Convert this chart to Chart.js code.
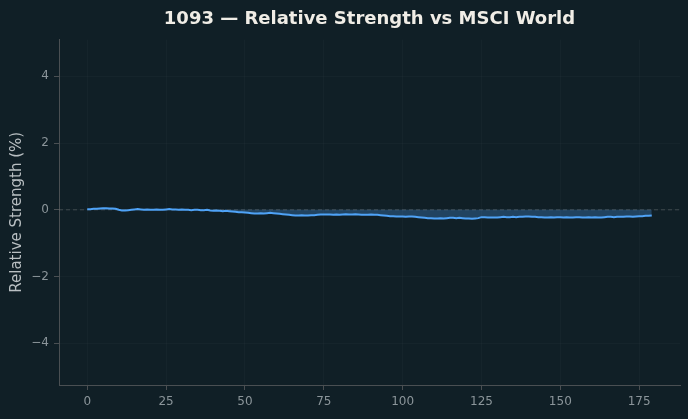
<!DOCTYPE html>
<html>
<head>
<meta charset="utf-8">
<script src="https://cdn.jsdelivr.net/npm/chart.js@4/dist/chart.umd.min.js"></script>
<style>
  html, body { margin: 0; padding: 0; background: #101f26; }
  #wrap { width: 688px; height: 419px; }
</style>
</head>
<body>
<div id="wrap"><canvas id="rsChart" width="688" height="419"></canvas></div>
<script>
// --- DATA ---
const chartTitle = '1093 — Relative Strength vs MSCI World';
const yAxisLabel = 'Relative Strength (%)';
const xTicks = [0, 25, 50, 75, 100, 125, 150, 175];
const yTicks = [-4, -2, 0, 2, 4];
const xRange = [-8.95, 187.95];
const yRange = [-5.25, 5.1];

// relative strength (%) per trading day, day 0..179
const rsValues = [
  0.02, 0.02, 0.03, 0.03, 0.04, 0.05, 0.05, 0.04, 0.04, 0.03,
  0.00, -0.02, -0.02, -0.01, 0.00, 0.01, 0.02, 0.01, 0.00, 0.01,
  0.00, 0.00, 0.01, 0.00, 0.00, 0.01, 0.02, 0.01, 0.01, 0.00,
  0.01, 0.00, 0.00, -0.01, 0.00, 0.00, -0.01, -0.01, 0.00, -0.02,
  -0.03, -0.02, -0.03, -0.04, -0.03, -0.04, -0.05, -0.06, -0.07, -0.07,
  -0.08, -0.09, -0.10, -0.11, -0.11, -0.10, -0.11, -0.10, -0.09, -0.10,
  -0.11, -0.12, -0.13, -0.14, -0.15, -0.16, -0.17, -0.17, -0.16, -0.17,
  -0.17, -0.16, -0.16, -0.15, -0.14, -0.14, -0.14, -0.14, -0.15, -0.14,
  -0.15, -0.14, -0.13, -0.14, -0.14, -0.13, -0.14, -0.15, -0.15, -0.15,
  -0.14, -0.15, -0.15, -0.16, -0.17, -0.18, -0.19, -0.19, -0.20, -0.20,
  -0.20, -0.21, -0.20, -0.20, -0.21, -0.22, -0.23, -0.24, -0.25, -0.25,
  -0.26, -0.26, -0.25, -0.26, -0.25, -0.24, -0.24, -0.25, -0.24, -0.25,
  -0.26, -0.26, -0.27, -0.26, -0.25, -0.22, -0.22, -0.23, -0.23, -0.23,
  -0.23, -0.22, -0.21, -0.22, -0.22, -0.21, -0.22, -0.21, -0.21, -0.20,
  -0.20, -0.21, -0.21, -0.22, -0.22, -0.23, -0.23, -0.22, -0.23, -0.22,
  -0.22, -0.23, -0.22, -0.23, -0.23, -0.22, -0.22, -0.23, -0.23, -0.22,
  -0.23, -0.22, -0.23, -0.23, -0.22, -0.21, -0.21, -0.22, -0.21, -0.21,
  -0.21, -0.20, -0.20, -0.21, -0.20, -0.19, -0.19, -0.18, -0.18, -0.17
];
const zeroLine = [0, 0];

// --- STYLE ---
const FONT = "'DejaVu Sans', sans-serif";
const tickColor = '#8b959a';
const spineColor = '#4a4f52';
const gridColor = 'rgba(255,255,255,0.025)';

const rsPoints = rsValues.map((v, i) => ({ x: i, y: v }));
const zeroPoints = zeroLine.map((v, i) => ({ x: xRange[i], y: v }));

const minusFmt = v => (v < 0 ? '\u2212' + Math.abs(v) : String(v));

new Chart(document.getElementById('rsChart'), {
  type: 'line',
  data: {
    datasets: [
      {
        label: 'zero',
        data: zeroPoints,
        borderColor: 'rgba(150,150,150,0.35)',
        borderWidth: 1,
        borderDash: [4, 3],
        pointRadius: 0,
        fill: false,
        order: 2
      },
      {
        label: 'RS',
        data: rsPoints,
        borderColor: '#4fa3f7',
        backgroundColor: 'rgba(79,163,247,0.28)',
        borderWidth: 2,
        pointRadius: 0,
        tension: 0,
        fill: 'origin',
        order: 1
      }
    ]
  },
  options: {
    responsive: false,
    animation: false,
    layout: { padding: { left: 0, right: 8, top: 0, bottom: 0 } },
    plugins: {
      legend: { display: false },
      tooltip: { enabled: false },
      title: {
        display: true,
        fullSize: false,
        text: chartTitle,
        color: '#f0ede6',
        font: { family: FONT, size: 18, weight: 'bold' },
        padding: { top: 9, bottom: 9 }
      }
    },
    scales: {
      x: {
        type: 'linear',
        min: xRange[0],
        max: xRange[1],
        afterFit: s => { s.height = 34; },
        afterBuildTicks: s => { s.ticks = xTicks.map(v => ({ value: v })); },
        ticks: { color: tickColor, font: { family: FONT, size: 12 }, padding: 5, maxRotation: 0, callback: minusFmt },
        grid: { color: gridColor, tickColor: spineColor, tickLength: 5 },
        border: { color: spineColor }
      },
      y: {
        type: 'linear',
        min: yRange[0],
        max: yRange[1],
        afterFit: s => { s.width = 59; },
        afterBuildTicks: s => { s.ticks = yTicks.map(v => ({ value: v })); },
        ticks: { color: tickColor, font: { family: FONT, size: 12 }, padding: 5, callback: minusFmt },
        grid: { color: gridColor, tickColor: spineColor, tickLength: 5 },
        border: { color: spineColor },
        title: {
          display: true,
          text: yAxisLabel,
          color: '#b9bfc2',
          font: { family: FONT, size: 15 },
          padding: { top: 8, bottom: 0 }
        }
      }
    }
  }
});
</script>
</body>
</html>
